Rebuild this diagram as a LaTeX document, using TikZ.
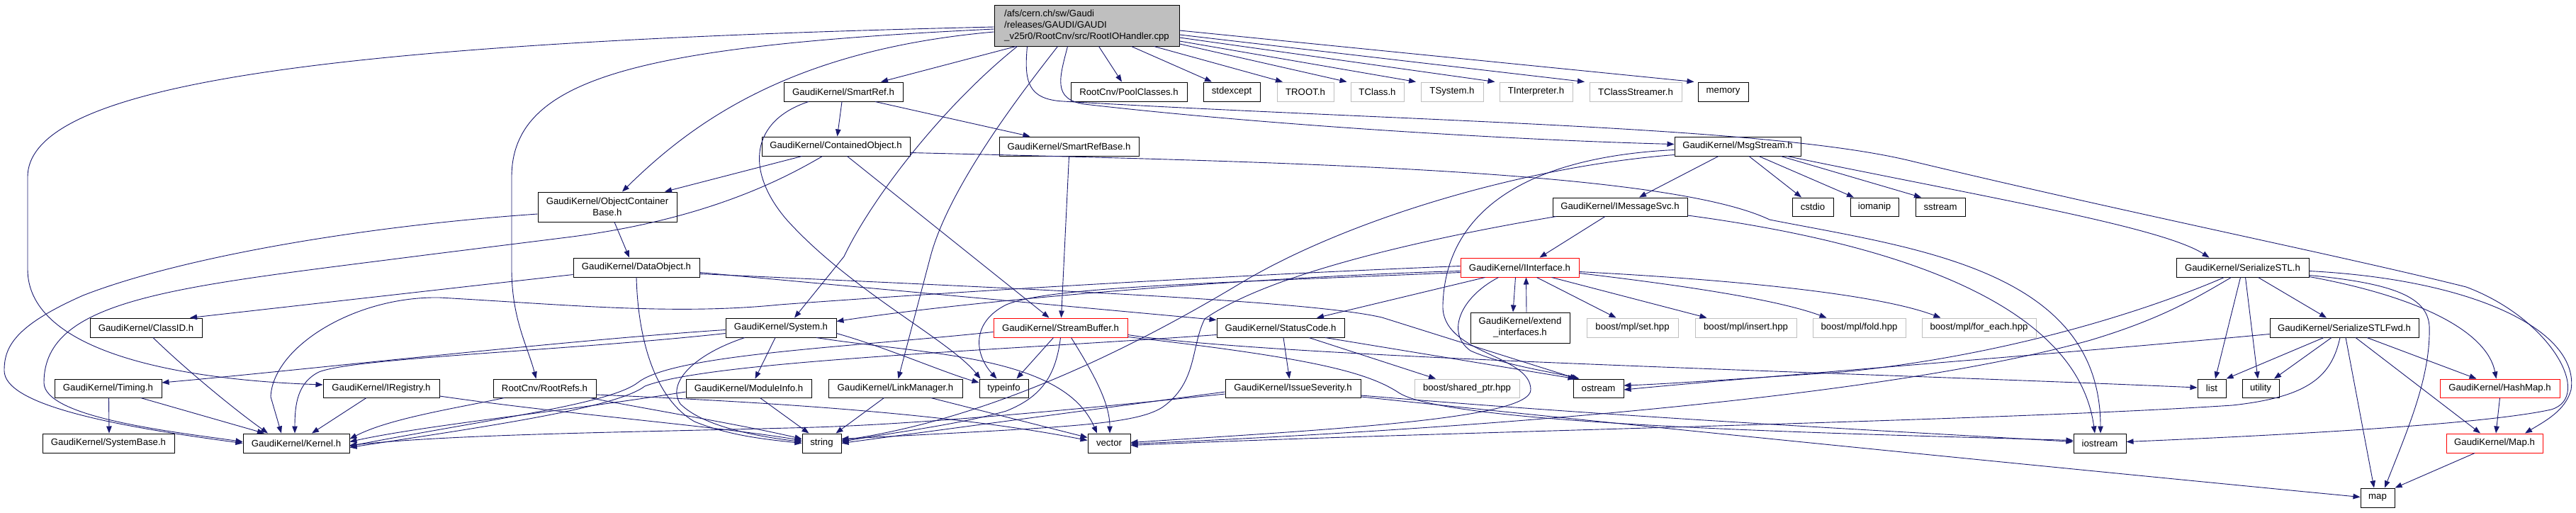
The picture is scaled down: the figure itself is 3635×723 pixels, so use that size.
\documentclass[tikz,border=0pt]{standalone}
\usepackage{fontspec}
\setmainfont{Liberation Sans}
\usetikzlibrary{arrows.meta}
\definecolor{edgec}{HTML}{191970}
\definecolor{grayb}{HTML}{BFBFBF}
\definecolor{rootf}{HTML}{BFBFBF}
\newcommand{\mk}[7][]{\node[box,#1,minimum width={#4-#3},minimum height={#6-#5}] (#2) at ({(#3+#4)/2},{(#5+#6)/2}) {#7};}
\begin{document}
\begin{tikzpicture}[x=1pt,y=-1pt,
  box/.style={draw=black,line width=1pt,rectangle,inner sep=0pt,fill=white,font=\fontsize{13.2}{16}\selectfont},
  gbox/.style={draw=grayb},
  rbox/.style={draw=red},
  ed/.style={draw=edgec,line width=0.9pt,-{Triangle[length=10pt,width=7.5pt]}}]
\fill[white] (0,0) rectangle (3635,723);
\useasboundingbox (0,0) rectangle (3635,723);
% ---------------- nodes
\mk[fill=rootf,align=left]{root}{1403}{1664}{7}{65}{/afs/cern.ch/sw/Gaudi\\/releases/GAUDI/GAUDI\\\_v25r0/RootCnv/src/RootIOHandler.cpp}
\mk{sref}{1106}{1274}{116}{143}{GaudiKernel/SmartRef.h}
\mk{pool}{1511}{1675}{116}{143}{RootCnv/PoolClasses.h}
\mk{stdexc}{1698}{1778}{116}{143}{stdexcept}
\mk[gbox]{troot}{1802}{1882}{116}{143}{TROOT.h}
\mk[gbox]{tclass}{1906}{1981}{116}{143}{TClass.h}
\mk[gbox]{tsys}{2005}{2093}{116}{143}{TSystem.h}
\mk[gbox]{tint}{2116}{2219}{116}{143}{TInterpreter.h}
\mk[gbox]{tcs}{2243}{2373}{116}{143}{TClassStreamer.h}
\mk{memory}{2396}{2467}{116}{143}{memory}
\mk{cobj}{1075}{1284}{193}{220}{GaudiKernel/ContainedObject.h}
\mk{srb}{1410}{1607}{193}{220}{GaudiKernel/SmartRefBase.h}
\mk{msg}{2363}{2541}{193}{220}{GaudiKernel/MsgStream.h}
\mk[align=center]{ocb}{759}{955}{271}{313}{GaudiKernel/ObjectContainer\\Base.h}
\mk{imsg}{2191}{2381}{279}{305}{GaudiKernel/IMessageSvc.h}
\mk{cstdio}{2529}{2587}{279}{305}{cstdio}
\mk{iomanip}{2611}{2679}{279}{305}{iomanip}
\mk{sstream}{2703}{2773}{279}{305}{sstream}
\mk{dobj}{809}{987}{364}{391}{GaudiKernel/DataObject.h}
\mk[rbox]{iint}{2061}{2228}{364}{391}{GaudiKernel/IInterface.h}
\mk{sstl}{3071}{3258}{364}{391}{GaudiKernel/SerializeSTL.h}
\mk{clsid}{127}{285}{449}{476}{GaudiKernel/ClassID.h}
\mk{sys}{1024}{1180}{449}{476}{GaudiKernel/System.h}
\mk[rbox]{sbuf}{1402}{1591}{449}{476}{GaudiKernel/StreamBuffer.h}
\mk{sc}{1717}{1897}{449}{476}{GaudiKernel/StatusCode.h}
\mk[align=center]{ext}{2075}{2215}{441}{484}{GaudiKernel/extend\\\_interfaces.h}
\mk[gbox]{setp}{2239}{2368}{449}{476}{boost/mpl/set.hpp}
\mk[gbox]{insp}{2392}{2535}{449}{476}{boost/mpl/insert.hpp}
\mk[gbox]{foldp}{2558}{2689}{449}{476}{boost/mpl/fold.hpp}
\mk[gbox]{feach}{2712}{2873}{449}{476}{boost/mpl/for\_each.hpp}
\mk{fwd}{3203}{3413}{449}{476}{GaudiKernel/SerializeSTLFwd.h}
\mk{timing}{77}{228}{535}{561}{GaudiKernel/Timing.h}
\mk{irg}{456}{620}{535}{561}{GaudiKernel/IRegistry.h}
\mk{rrefs}{696}{841}{535}{561}{RootCnv/RootRefs.h}
\mk{minfo}{968}{1145}{535}{561}{GaudiKernel/ModuleInfo.h}
\mk{lnk}{1169}{1358}{535}{561}{GaudiKernel/LinkManager.h}
\mk{tinfo}{1382}{1451}{535}{561}{typeinfo}
\mk{isev}{1729}{1920}{535}{561}{GaudiKernel/IssueSeverity.h}
\mk[gbox]{sptr}{1996}{2144}{535}{561}{boost/shared\_ptr.hpp}
\mk{ostr}{2220}{2291}{535}{561}{ostream}
\mk{list}{3101}{3141}{535}{561}{list}
\mk{util}{3164}{3216}{535}{561}{utility}
\mk[rbox]{hmap}{3443}{3612}{535}{561}{GaudiKernel/HashMap.h}
\mk{sysb}{60}{246}{612}{639}{GaudiKernel/SystemBase.h}
\mk{kern}{343}{493}{612}{639}{GaudiKernel/Kernel.h}
\mk{str}{1132}{1187}{612}{639}{string}
\mk{vec}{1535}{1595}{612}{639}{vector}
\mk{iost}{2926}{3000}{612}{639}{iostream}
\mk[rbox]{mapH}{3452}{3588}{612}{639}{GaudiKernel/Map.h}
\mk{map}{3331}{3379}{689}{716}{map}
% ---------------- root edges
\draw[ed] ([xshift=-100]root.south) -- ([xshift=53]sref.north);
\draw[ed] ([xshift=17]root.south) -- ([xshift=-10]pool.north);
\draw[ed] ([xshift=63]root.south) -- ([xshift=-28]stdexc.north);
\draw[ed] ([xshift=95]root.south) -- ([xshift=-32]troot.north);
\draw[ed] ([yshift=-26]root.east) -- ([xshift=-43]tclass.north);
\draw[ed] ([yshift=-22]root.east) -- ([xshift=-51]tsys.north);
\draw[ed] ([yshift=-17]root.east) -- ([xshift=-58]tint.north);
\draw[ed] ([yshift=-13]root.east) -- ([xshift=-72]tcs.north);
\draw[ed] ([yshift=-7]root.east) -- ([xshift=-41]memory.north);
\draw[ed] ([xshift=-27]root.south) .. controls (1495,110) and (1485,140) .. (1530,147) .. controls (1800,178) and (2150,198) .. ([yshift=3]msg.west);
\draw[ed] ([xshift=-84]root.south) .. controls (1445,115) and (1450,140) .. (1500,143) .. controls (2000,172) and (2500,178) .. (2700,228) .. controls (3000,300) and (3300,360) .. (3480,405) .. controls (3600,450) and (3660,560) .. (3600,578) .. controls (3500,600) and (3200,615) .. ([yshift=2]iost.east);
\draw[ed] ([yshift=-2]root.west) .. controls (450,60) and (39,120) .. (39,250) -- (39,380) .. controls (39,490) and (230,535) .. ([yshift=5]irg.west);
\draw[ed] ([yshift=-9]root.west) .. controls (1120,70) and (980,170) .. ([xshift=21]ocb.north);
\draw[ed] ([yshift=-5]root.west) .. controls (900,65) and (722,110) .. (722,250) -- (722,380) .. controls (722,450) and (745,490) .. ([xshift=-12]rrefs.north);
\draw[ed] ([xshift=-98]root.south) .. controls (1330,150) and (1230,280) .. (1191,362) -- ([xshift=19]sys.north);
\draw[ed] ([xshift=-41]root.south) .. controls (1450,120) and (1340,260) .. (1313,362) -- ([xshift=4]lnk.north);
% ---------------- SmartRef
\draw[ed] ([xshift=-2]sref.south) -- ([xshift=2]cobj.north);
\draw[ed] ([xshift=45]sref.south) -- ([xshift=-55]srb.north);
\draw[ed] ([xshift=-49]sref.south) .. controls (1060,170) and (1050,240) .. (1110,310) .. controls (1200,410) and (1340,480) .. ([xshift=-33]tinfo.north);
% ---------------- ContainedObject
\draw[ed] ([xshift=-48]cobj.south) -- ([xshift=81]ocb.north);
\draw[ed] ([xshift=-19]cobj.south) .. controls (1110,250) and (1000,310) .. (800,335) -- (600,360) .. controls (250,405) and (62,420) .. (62,540) .. controls (62,590) and (250,610) .. ([yshift=2]kern.west);
\draw[ed] ([xshift=16]cobj.south) -- ([xshift=-16]sbuf.north);
\draw[ed] ([yshift=-9]cobj.east) .. controls (1800,228) and (2350,240) .. (2497,310) .. controls (2700,350) and (2964,380) .. ([xshift=1]iost.north);
% ---------------- ObjectContainerBase
\draw[ed] ([xshift=10]ocb.south) -- ([xshift=-10]dobj.north);
\draw[ed] ([yshift=-10]ocb.west) .. controls (500,320) and (250,365) .. (117,417) .. controls (20,460) and (6,490) .. (6,523) .. controls (6,570) and (150,600) .. (kern.west);
% ---------------- SmartRefBase
\draw[ed] (srb.south) -- ([xshift=1]sbuf.north);
% ---------------- MsgStream
\draw[ed] ([xshift=-27]msg.south) -- ([xshift=27]imsg.north);
\draw[ed] ([xshift=16]msg.south) -- ([xshift=-16]cstdio.north);
\draw[ed] ([xshift=30]msg.south) -- ([xshift=-29]iomanip.north);
\draw[ed] ([xshift=61]msg.south) -- ([xshift=-27]sstream.north);
\draw[ed] ([xshift=70]msg.south) .. controls (2800,278) and (3050,320) .. ([xshift=-47]sstl.north);
\draw[ed] ([yshift=-12]msg.west) .. controls (2150,235) and (1900,310) .. (1750,400) .. controls (1600,490) and (1400,590) .. ([yshift=4]str.east);
\draw[ed] ([yshift=-5]msg.west) .. controls (2150,222) and (2040,300) .. (2036,430) .. controls (2033,500) and (2160,500) .. (2160,550) .. controls (2160,590) and (1900,605) .. ([yshift=1]vec.east);
% ---------------- IMessageSvc
\draw[ed] ([xshift=-21]imsg.south) -- ([xshift=28]iint.north);
\draw[ed] ([yshift=-12]imsg.east) .. controls (2650,340) and (2930,420) .. ([xshift=-7]iost.north);
\draw[ed] ([xshift=-90]imsg.south) .. controls (2050,330) and (1800,380) .. (1700,450) .. controls (1680,490) and (1690,540) .. (1640,575) .. controls (1600,600) and (1500,603) .. ([yshift=6]str.east);
% ---------------- IInterface
\draw[ed] ([xshift=-6]iint.south) -- ([xshift=-10]ext.north);
\draw[ed] ([xshift=9]ext.north) -- ([xshift=9]iint.south);
\draw[ed] ([xshift=24]iint.south) -- ([xshift=-23]setp.north);
\draw[ed] ([xshift=45]iint.south) -- ([xshift=-55]insp.north);
\draw[ed] ([yshift=-8]iint.east) .. controls (2350,400) and (2500,420) .. ([xshift=-46]foldp.north);
\draw[ed] ([yshift=-6]iint.east) .. controls (2450,395) and (2650,415) .. ([xshift=-54]feach.north);
\draw[ed] ([xshift=-30]iint.south) .. controls (2060,420) and (2040,470) .. (2075,495) .. controls (2120,515) and (2190,525) .. ([xshift=-27]ostr.north);
\draw[ed] ([xshift=-49]iint.south) -- ([xshift=51]sc.north);
\draw[ed] ([yshift=-5]iint.west) .. controls (1800,390) and (1400,420) .. ([yshift=9]sys.east);
\draw[ed] ([yshift=2]iint.west) .. controls (1700,390) and (1300,415) .. (1100,430) .. controls (950,445) and (800,430) .. (620,420) .. controls (500,418) and (385,490) .. (382,560) -- ([xshift=-21]kern.north);
\draw[ed] ([yshift=-7]iint.west) .. controls (1700,400) and (1480,405) .. (1420,430) .. controls (1370,455) and (1375,500) .. ([xshift=-10]tinfo.north);
% ---------------- System
\draw[ed] ([yshift=-3]sys.west) .. controls (800,480) and (400,525) .. ([yshift=8]timing.east);
\draw[ed] ([yshift=-8]sys.west) .. controls (800,495) and (500,505) .. (450,525) .. controls (420,540) and (416,570) .. ([xshift=-2]kern.north);
\draw[ed] ([xshift=-8]sys.south) -- ([xshift=9]minfo.north);
\draw[ed] ([xshift=-51]sys.south) .. controls (980,500) and (940,540) .. (960,570) .. controls (990,600) and (1060,615) .. ([yshift=2]str.west);
\draw[ed] ([xshift=50]sys.south) .. controls (1300,500) and (1500,500) .. ([xshift=-17]vec.north);
\draw[ed] ([yshift=-8]sys.east) .. controls (1250,490) and (1330,525) .. ([yshift=8]tinfo.west);
% ---------------- Timing, ClassID, IRegistry
\draw[ed] ([xshift=1]timing.south) -- ([xshift=1]sysb.north);
\draw[ed] ([xshift=46]timing.south) -- ([xshift=-45]kern.north);
\draw[ed] ([xshift=10]clsid.south) .. controls (250,510) and (320,570) .. ([xshift=-40]kern.north);
\draw[ed] ([xshift=-21]irg.south) -- ([xshift=22]kern.north);
\draw[ed] ([yshift=-11]irg.east) .. controls (800,585) and (1000,600) .. ([yshift=4]str.west);
% ---------------- RootRefs, ModuleInfo, LinkManager
\draw[ed] ([xshift=-57]rrefs.south) .. controls (650,575) and (550,590) .. ([yshift=6]kern.east);
\draw[ed] ([xshift=64]rrefs.south) .. controls (900,575) and (1050,600) .. ([yshift=6]str.west);
\draw[ed] ([yshift=-9]rrefs.east) .. controls (1100,568) and (1350,585) .. ([yshift=4]vec.west);
\draw[ed] ([yshift=-5]minfo.west) .. controls (800,580) and (600,600) .. ([yshift=2]kern.east);
\draw[ed] ([xshift=16]minfo.south) -- ([xshift=-18]str.north);
\draw[ed] ([xshift=-16]lnk.south) -- ([xshift=20]str.north);
\draw[ed] ([xshift=50]lnk.south) -- ([yshift=8]vec.west);
% ---------------- StreamBuffer
\draw[ed] ([xshift=-10]sbuf.south) -- ([xshift=18]tinfo.north);
\draw[ed] ([xshift=15]sbuf.south) .. controls (1545,530) and (1566,570) .. ([xshift=1]vec.north);
\draw[ed] (sbuf.south) .. controls (1490,530) and (1470,560) .. (1420,580) .. controls (1350,600) and (1250,612) .. ([yshift=2]str.east);
\draw[ed] ([yshift=-6]sbuf.west) .. controls (1200,490) and (950,500) .. (900,540) .. controls (860,570) and (700,590) .. ([yshift=-4]kern.east);
\draw[ed] ([yshift=-10]sbuf.east) .. controls (1800,505) and (2600,525) .. ([yshift=1]list.west);
\draw[ed] ([yshift=-13]sbuf.east) .. controls (1850,505) and (1930,525) .. (1975,555) .. controls (2050,600) and (2600,612) .. ([yshift=4]iost.west);
% ---------------- StatusCode
\draw[ed] ([xshift=4]sc.south) -- ([xshift=-5]isev.north);
\draw[ed] ([xshift=40]sc.south) -- ([xshift=-44]sptr.north);
\draw[ed] ([xshift=63]sc.south) -- ([xshift=-33]ostr.north);
\draw[ed] ([yshift=-10]sc.west) .. controls (1400,495) and (1000,510) .. (910,545) .. controls (870,575) and (700,600) .. ([yshift=-6]kern.east);
% ---------------- DataObject
\draw[ed] ([yshift=-10]dobj.west) -- ([xshift=62]clsid.north);
\draw[ed] (dobj.south) .. controls (900,470) and (920,560) .. (980,595) .. controls (1030,615) and (1080,620) .. (str.west);
\draw[ed] ([yshift=-7]dobj.east) -- ([yshift=11]sc.west);
\draw[ed] ([yshift=-9]dobj.east) .. controls (1500,410) and (1850,425) .. (1950,448) -- ([xshift=-30]ostr.north);
% ---------------- IssueSeverity
\draw[ed] ([yshift=-5]isev.west) -- (str.east);
\draw[ed] ([yshift=-8]isev.west) .. controls (1500,580) and (1300,598) .. (1150,603) .. controls (900,610) and (650,612) .. ([yshift=-3]kern.east);
\draw[ed] ([yshift=-10]isev.east) .. controls (2300,590) and (2700,610) .. ([yshift=2]iost.west);
\draw[ed] ([yshift=-12]isev.east) .. controls (2300,600) and (2900,660) .. ([yshift=1]map.west);
% ---------------- SerializeSTL
\draw[ed] ([xshift=22]sstl.south) -- ([xshift=-25]fwd.north);
\draw[ed] ([xshift=-3]sstl.south) -- ([xshift=5]list.north);
\draw[ed] ([xshift=4]sstl.south) -- ([xshift=-4]util.north);
\draw[ed] ([yshift=-11]sstl.east) .. controls (3380,400) and (3425,420) .. (3428,460) .. controls (3430,530) and (3400,600) .. ([xshift=10]map.north);
\draw[ed] ([yshift=-13]sstl.east) .. controls (3420,420) and (3510,470) .. ([xshift=-5]hmap.north);
\draw[ed] ([yshift=-5]sstl.east) .. controls (3500,395) and (3640,470) .. (3628,550) .. controls (3620,580) and (3590,595) .. ([xshift=43]mapH.north);
\draw[ed] ([xshift=-26]sstl.south) .. controls (3050,430) and (2850,500) .. (2600,525) .. controls (2450,535) and (2350,542) .. ([yshift=4]ostr.east);
\draw[ed] ([xshift=-16]sstl.south) .. controls (3100,420) and (3050,450) .. (2950,480) .. controls (2700,550) and (2200,600) .. ([yshift=-1]vec.east);
% ---------------- SerializeSTLFwd
\draw[ed] ([xshift=-29]fwd.south) -- (list.north east);
\draw[ed] ([xshift=-18]fwd.south) -- ([xshift=19]util.north);
\draw[ed] ([xshift=-6]fwd.south) .. controls (3290,530) and (3260,560) .. (3150,572) .. controls (2800,595) and (2000,610) .. ([yshift=-3]vec.east);
\draw[ed] ([xshift=2]fwd.south) -- ([xshift=-5]map.north);
\draw[ed] ([xshift=16]fwd.south) -- ([xshift=-20]mapH.north);
\draw[ed] ([xshift=32]fwd.south) -- ([xshift=-33]hmap.north);
\draw[ed] ([yshift=-9]fwd.west) .. controls (2900,500) and (2500,530) .. ([yshift=-2]ostr.east);
% ---------------- HashMap, Map
\draw[ed] (hmap.south) -- ([xshift=2]mapH.north);
\draw[ed] ([xshift=-28]mapH.south) -- (map.north east);
\end{tikzpicture}
\end{document}
